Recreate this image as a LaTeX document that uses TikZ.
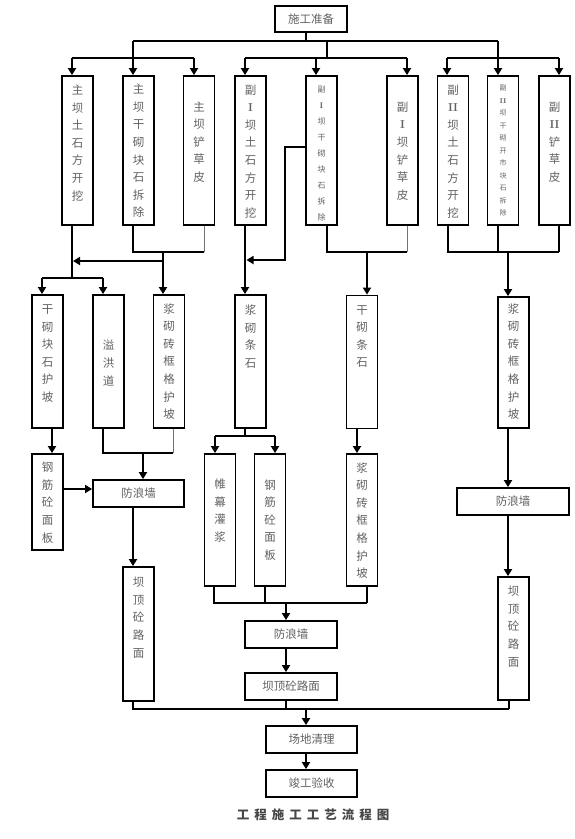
\documentclass[tikz,border=0pt]{standalone}
\usepackage{fontspec}
\newfontfamily\cjk{Noto Sans CJK SC}
\usetikzlibrary{arrows.meta}
\newcommand{\RI}{{\rmfamily\bfseries I}}
\newcommand{\RII}{{\rmfamily\bfseries II}}
\begin{document}
\begin{tikzpicture}[x=1pt,y=-1pt,
 box/.style={draw, line width=1.8pt, inner sep=0pt, minimum width=31pt},
 hbox/.style={draw, line width=1.8pt, inner sep=0pt, text=black!62, font=\cjk\fontsize{11.5}{13}\selectfont},
 vt/.style={align=center, inner sep=0pt, text=black!62, font=\cjk\fontsize{11.5}{17.6}\selectfont},
 vts/.style={align=center, inner sep=0pt, text=black!62, font=\cjk\fontsize{8}{15.9}\selectfont},
 vtxs/.style={align=center, inner sep=0pt, text=black!62, font=\cjk\fontsize{7}{12.5}\selectfont},
 con/.style={line width=1.7pt},
 lite/.style={line width=1pt, black!55},
 arr/.style={line width=1.7pt, -{Triangle[length=7pt,width=8pt]}},
]
\useasboundingbox (0,0) rectangle (575,839);

% ---------- boxes ----------
\node[hbox, minimum width=72pt, minimum height=26pt] (top) at (311,19) {施工准备};

\node[box, minimum height=149pt] (t1) at (77.5,150.5) {};
\node[box, minimum height=149pt] (t2) at (138.5,150.5) {};
\node[box, minimum height=149pt] (t3) at (199,150.5) {};
\node[box, minimum height=149pt] (t4) at (250.5,150.5) {};
\node[box, minimum height=149pt] (t5) at (321.5,150.5) {};
\node[box, minimum height=149pt] (t6) at (402.5,150.5) {};
\node[box, minimum height=149pt] (t7) at (453,150.5) {};
\node[box, minimum height=149pt] (t8) at (503,150.5) {};
\node[box, minimum height=149pt] (t9) at (554.5,150.5) {};

\node[vt] (t1x) at (77.5,143) {主\\坝\\土\\石\\方\\开\\挖};
\node[vt] (t2x) at (138.5,151) {主\\坝\\干\\砌\\块\\石\\拆\\除};
\node[vt] (t3x) at (199,142) {主\\坝\\铲\\草\\皮};
\node[vt] (t4x) at (250.5,151.5) {副\\\RI\\坝\\土\\石\\方\\开\\挖};
\node[vts] (t5x) at (321.5,153.5) {副\\\RI\\坝\\干\\砌\\块\\石\\拆\\除};
\node[vt] (t6x) at (402.5,151) {副\\\RI\\坝\\铲\\草\\皮};
\node[vt] (t7x) at (453,151.5) {副\\\RII\\坝\\土\\石\\方\\开\\挖};
\node[vtxs] (t8x) at (503,150.5) {副\\\RII\\坝\\干\\砌\\开\\市\\块\\石\\拆\\除};
\node[vt] (t9x) at (554.5,142) {副\\\RII\\铲\\草\\皮};

\node[box, minimum height=133pt] (m1) at (47.5,361.5) {};
\node[box, minimum height=133pt] (m2) at (108.5,361.5) {};
\node[box, minimum height=133pt] (m3) at (169,361.5) {};
\node[box, minimum height=133pt] (m4) at (250.5,361.5) {};
\node[box, minimum height=133pt] (m5) at (362,362) {};
\node[box, minimum height=131pt] (m6) at (513.5,362.5) {};

\node[vt] (m1x) at (47.5,353.5) {干\\砌\\块\\石\\护\\坡};
\node[vt] (m2x) at (108.5,363) {溢\\洪\\道};
\node[vt] (m3x) at (169,361.5) {浆\\砌\\砖\\框\\格\\护\\坡};
\node[vt] (m4x) at (250.5,336.5) {浆\\砌\\条\\石};
\node[vt] (m5x) at (362,336.5) {干\\砌\\条\\石};
\node[vt] (m6x) at (513.5,361.5) {浆\\砌\\砖\\框\\格\\护\\坡};

\node[box, minimum height=96pt] (r1) at (47.5,502) {};
\node[hbox, minimum width=91pt, minimum height=27pt] (r2) at (138.5,493.5) {防浪墙};
\node[box, minimum height=132pt] (r3) at (220,520) {};
\node[box, minimum height=132pt] (r4) at (270,520) {};
\node[box, minimum height=132pt] (r5) at (362,520) {};
\node[hbox, minimum width=112pt, minimum height=27pt] (r6) at (513,501.5) {防浪墙};
\node[box, minimum height=134pt] (r7) at (138.5,634) {};
\node[hbox, minimum width=92pt, minimum height=27pt] (r8) at (291,634.5) {防浪墙};
\node[hbox, minimum width=92pt, minimum height=27pt] (r9) at (291,686.5) {坝顶砼路面};
\node[box, minimum height=123pt] (r10) at (513.5,638.5) {};

\node[vt] (r1x) at (47.5,502.5) {钢\\筋\\砼\\面\\板};
\node[vt] (r3x) at (220,510.5) {帷\\幕\\灌\\浆};
\node[vt] (r4x) at (270,520) {钢\\筋\\砼\\面\\板};
\node[vt] (r5x) at (362,520.5) {浆\\砌\\砖\\框\\格\\护\\坡};
\node[vt] (r7x) at (138.5,617.5) {坝\\顶\\砼\\路\\面};
\node[vt] (r10x) at (513.5,626.5) {坝\\顶\\砼\\路\\面};

\node[hbox, minimum width=91pt, minimum height=27pt] (s1) at (311.5,739.5) {场地清理};
\node[hbox, minimum width=91pt, minimum height=27pt] (s2) at (311.5,783.5) {竣工验收};

\node[inner sep=0pt, text=black!72, font=\cjk\bfseries\fontsize{12.5}{14}\selectfont] (cap) at (313,815)
 {工\kern5pt 程\kern5pt 施\kern5pt 工\kern5pt 工\kern5pt 艺\kern5pt 流\kern5pt 程\kern5pt 图};

% ---------- top distribution ----------
\coordinate (j0) at (306,41);
\coordinate (bL) at (133,41);
\coordinate (bR) at (498,41);
\draw[con] (top.south -| j0) -- (j0);
\draw[con] (bL) -- (bR);

\coordinate (g1) at (72,58);
\coordinate (g2) at (133,58);
\coordinate (g3) at (194,58);
\draw[con] (bL) -- (g2);
\draw[con] (g1) -- (g3);
\draw[arr] (g1) -- (g1 |- t1.north);
\draw[arr] (g2) -- (g2 |- t2.north);
\draw[arr] (g3) -- (g3 |- t3.north);

\coordinate (h0) at (327,41);
\coordinate (h0b) at (327,58);
\coordinate (h1) at (245,58);
\coordinate (h2) at (316,58);
\coordinate (h3) at (407,58);
\draw[con] (h0) -- (h0b);
\draw[con] (h1) -- (h3);
\draw[arr] (h1) -- (h1 |- t4.north);
\draw[arr] (h2) -- (h2 |- t5.north);
\draw[arr] (h3) -- (h3 |- t6.north);

\coordinate (k1) at (447,58);
\coordinate (k2) at (498,58);
\coordinate (k3) at (559,58);
\draw[con] (bR) -- (k2);
\draw[con] (k1) -- (k3);
\draw[arr] (k1) -- (k1 |- t7.north);
\draw[arr] (k2) -- (k2 |- t8.north);
\draw[arr] (k3) -- (k3 |- t9.north);

% ---------- top row to second row ----------
\coordinate (p1) at (72,278);
\coordinate (p1l) at (42,278);
\coordinate (p1r) at (103,278);
\draw[con] (t1.south -| p1) -- (p1);
\draw[con] (p1l) -- (p1r);
\draw[arr] (p1l) -- (p1l |- m1.north);
\draw[arr] (p1r) -- (p1r |- m2.north);

\coordinate (q1) at (133,252);
\coordinate (q2) at (204,252);
\coordinate (q3) at (163,252);
\coordinate (q4) at (163,261);
\coordinate (q5) at (73,261);
\draw[con] (t2.south -| q1) -- (q1) -- (q2);
\draw[lite] (t3.south -| q2) -- (q2);
\draw[arr] (q3) -- (q3 |- m3.north);
\draw[arr] (q4) -- (q5);

\draw[arr] (t4.south -| h1) -- (h1 |- m4.north);

\coordinate (v1) at (285,147);
\coordinate (v2) at (285,260);
\coordinate (v3) at (246.5,260);
\draw[arr] (t5.west |- v1) -- (v1) -- (v2) -- (v3);

\coordinate (w1) at (327,252);
\coordinate (w2) at (407,252);
\coordinate (w3) at (367,252);
\draw[con] (t5.south -| w1) -- (w1) -- (w2);
\draw[lite] (t6.south -| w2) -- (w2);
\draw[arr] (w3) -- (w3 |- m5.north);

\coordinate (x1) at (448,252);
\coordinate (x2) at (498,252);
\coordinate (x3) at (559,252);
\coordinate (x4) at (508,252);
\draw[con] (t7.south -| x1) -- (x1) -- (x3);
\draw[con] (t8.south -| x2) -- (x2);
\draw[con] (t9.south -| x3) -- (x3);
\draw[arr] (x4) -- (x4 |- m6.north);

% ---------- second row to third row ----------
\coordinate (y1) at (52,440);
\draw[arr] (m1.south -| y1) -- (y1 |- r1.north);

\coordinate (z1) at (103,453);
\coordinate (z2) at (173,453);
\coordinate (z3) at (143,453);
\draw[con] (m2.south -| z1) -- (z1) -- (z2);
\draw[lite] (m3.south -| z2) -- (z2);
\draw[arr] (z3) -- (z3 |- r2.north);

\coordinate (z4) at (63,489);
\draw[arr] (r1.east |- z4) -- (r2.west |- z4);

\coordinate (z5) at (133,540);
\draw[arr] (r2.south -| z5) -- (z5 |- r7.north);

\coordinate (a1) at (245,436);
\coordinate (a2) at (215,436);
\coordinate (a3) at (275,436);
\draw[con] (m4.south -| a1) -- (a1);
\draw[con] (a2) -- (a3);
\draw[arr] (a2) -- (a2 |- r3.north);
\draw[arr] (a3) -- (a3 |- r4.north);

\coordinate (a4) at (357,440);
\draw[arr] (m5.south -| a4) -- (a4 |- r5.north);

\coordinate (c1) at (214,603);
\coordinate (c2) at (265,603);
\coordinate (c3) at (367,603);
\coordinate (c4) at (286,603);
\draw[con] (r3.south -| c1) -- (c1) -- (c3);
\draw[con] (r4.south -| c2) -- (c2);
\draw[con] (r5.south -| c3) -- (c3);
\draw[arr] (c4) -- (c4 |- r8.north);
\draw[arr] (r8.south -| c4) -- (c4 |- r9.north);

\coordinate (d1) at (508,440);
\draw[arr] (m6.south -| d1) -- (d1 |- r6.north);
\draw[arr] (r6.south -| d1) -- (d1 |- r10.north);

% ---------- final ----------
\coordinate (e1) at (133,709);
\coordinate (e2) at (286,709);
\coordinate (e3) at (509,709);
\coordinate (e4) at (306,709);
\draw[con] (r7.south -| e1) -- (e1) -- (e3);
\draw[con] (r9.south -| e2) -- (e2);
\draw[con] (r10.south -| e3) -- (e3);
\draw[arr] (e4) -- (e4 |- s1.north);
\draw[arr] (s1.south -| e4) -- (e4 |- s2.north);
\end{tikzpicture}
\end{document}
